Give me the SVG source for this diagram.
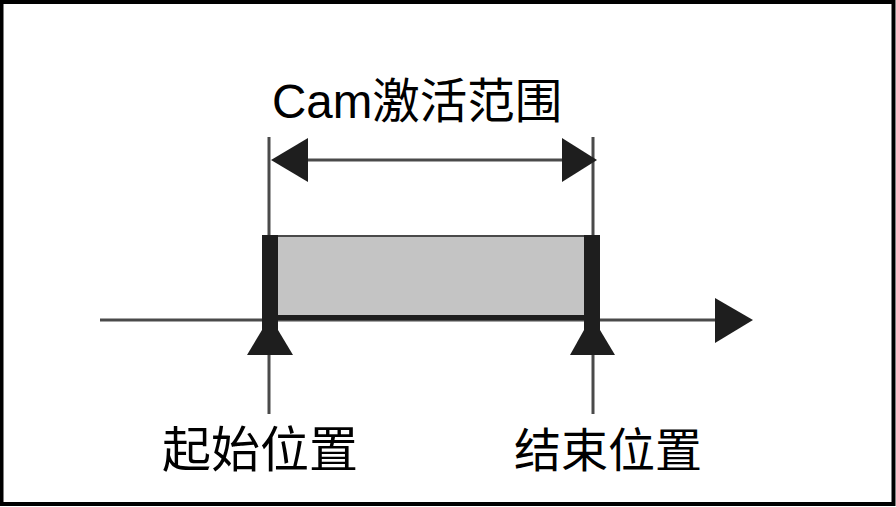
<svg xmlns="http://www.w3.org/2000/svg" width="896" height="507" viewBox="0 0 896 507">
<style>
.thin{stroke:#4a4a4a;stroke-width:3;fill:none}
.blk{fill:#1e1e1e}
.lbl{font-family:"Liberation Sans","Noto Sans CJK SC",sans-serif;fill:#000}
</style>
<rect x="0" y="0" width="896" height="507" fill="#fff"/>
<rect x="1.5" y="2" width="892" height="502" fill="none" stroke="#000" stroke-width="4"/>
<g id="connectors">
<line class="thin" x1="100" y1="320" x2="718" y2="320"/>
<polygon class="blk" points="715,298 753,320 715,343"/>
<line class="thin" x1="269" y1="137" x2="269" y2="414"/>
<line class="thin" x1="593" y1="137" x2="593" y2="414"/>
<line class="thin" x1="300" y1="160" x2="565" y2="160"/>
<polygon class="blk" points="271,160 308,138 308,182"/>
<polygon class="blk" points="597,160 562,138 562,182"/>
</g>
<g id="range">
<rect x="270" y="236" width="322" height="82" fill="#c4c4c4" stroke="#4a4a4a" stroke-width="2"/>
<rect x="270" y="315" width="322" height="5" class="blk"/>
<rect x="262" y="235" width="16" height="100" class="blk"/>
<rect x="584" y="235" width="16" height="100" class="blk"/>
<polygon class="blk" points="262,330 278,330 293,355 247,355"/>
<polygon class="blk" points="584,330 600,330 615,355 570,355"/>
</g>
<g id="title"><text class="lbl" x="272" y="118" font-size="47.5">Cam激活范围</text></g>
<g id="start"><text class="lbl" x="162" y="467" font-size="49">起始位置</text></g>
<g id="end"><text class="lbl" x="514" y="467" font-size="47">结束位置</text></g>
</svg>
